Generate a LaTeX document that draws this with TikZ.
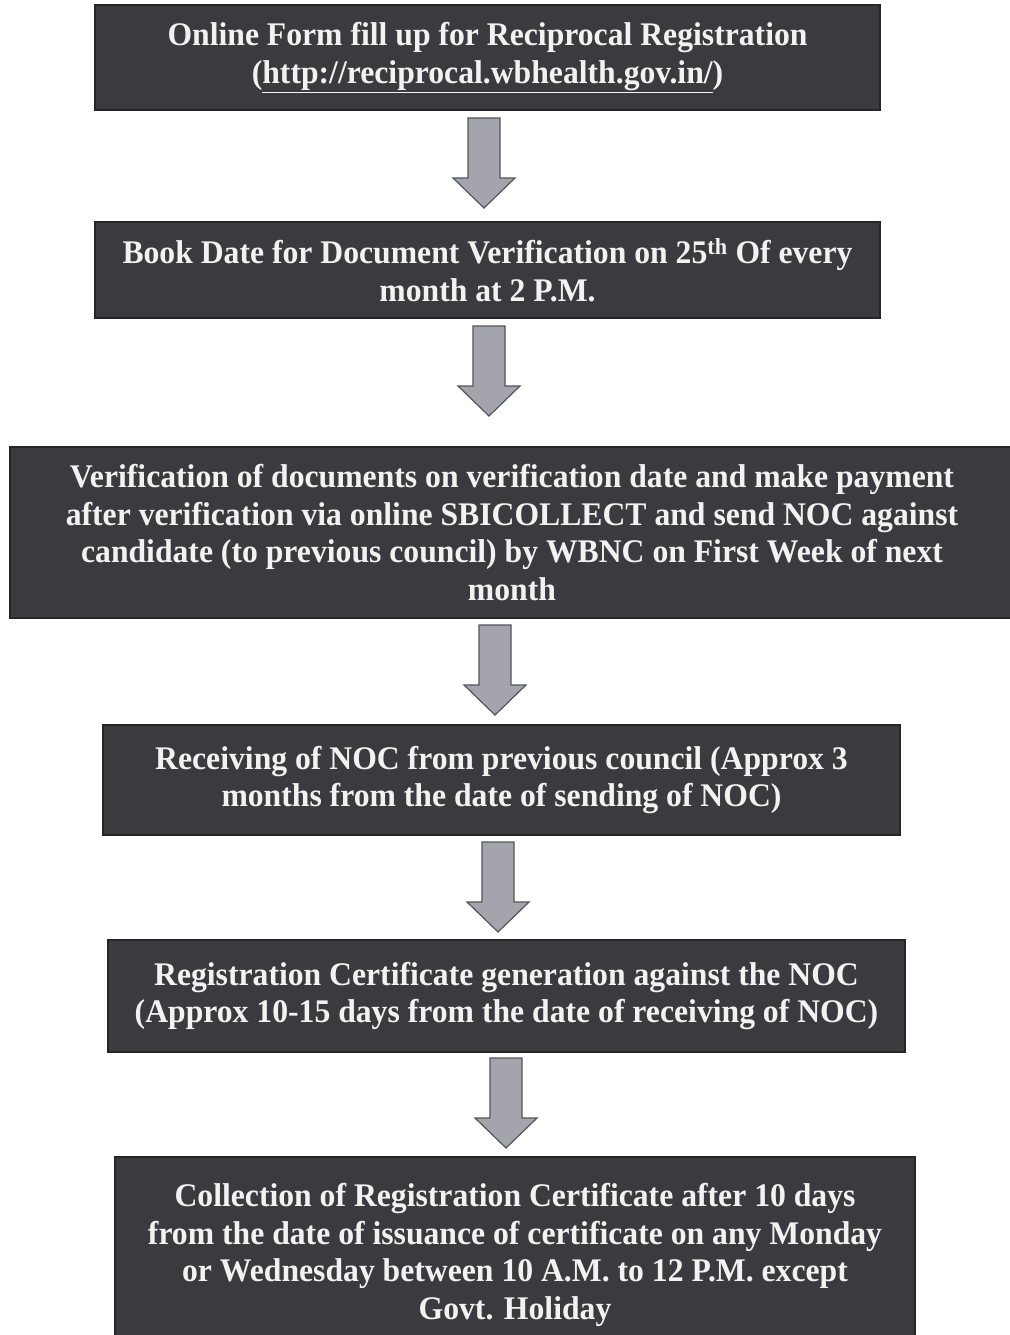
\documentclass[tikz,border=0pt]{standalone}
\usepackage{fontspec}
\setmainfont{Liberation Serif}[FakeStretch=0.96]
\usetikzlibrary{calc}
\definecolor{boxfill}{HTML}{3B3A3F}
\definecolor{boxline}{HTML}{262528}
\definecolor{arrowfill}{HTML}{A3A4AC}
\definecolor{arrowline}{HTML}{55565C}
\definecolor{txt}{HTML}{F2F2F2}
\tikzset{
  stepbox/.style={fill=boxfill, draw=boxline, line width=2pt, text=txt,
    font=\bfseries\fontsize{33}{37.5}\selectfont, align=center,
    inner sep=0pt, outer sep=0pt},
  blockarrow/.style={fill=arrowfill, draw=arrowline, line width=1.2pt, line join=miter}
}
\newcommand{\downarrowat}[1]{%
  \draw[blockarrow] ($(#1)+(-16,0)$) -- ($(#1)+(16,0)$) -- ($(#1)+(16,60)$) -- ($(#1)+(31,60)$)
    -- ($(#1)+(0,90)$) -- ($(#1)+(-31,60)$) -- ($(#1)+(-16,60)$) -- cycle;}
\begin{document}
\begin{tikzpicture}[x=1pt,y=-1pt]
\useasboundingbox (0,0) rectangle (1009,1335);
\fill[white] (0,0) rectangle (1009,1335);

\node[stepbox, minimum width=785, minimum height=105] (b1) at (487.5,57.5)
  {Online Form fill up for Reciprocal Registration\\(\underline{http://reciprocal.wbhealth.gov.in/})};
\node[stepbox, minimum width=785, minimum height=96] (b2) at (487.5,270)
  {Book Date for Document Verification on 25\textsuperscript{th} Of every\\month at 2 P.M.};
\node[stepbox, minimum width=1005, minimum height=171] (b3) at (512,532.5)
  {Verification of documents on verification date and make payment\\after verification via online SBICOLLECT and send NOC against\\candidate (to previous council) by WBNC on First Week of next\\month};
\node[stepbox, minimum width=797, minimum height=110] (b4) at (501.5,780)
  {Receiving of NOC from previous council (Approx 3\\months from the date of sending of NOC)};
\node[stepbox, minimum width=797, minimum height=112] (b5) at (506.5,996)
  {Registration Certificate generation against the NOC\\(Approx 10-15 days from the date of receiving of NOC)};
\node[stepbox, minimum width=800, minimum height=196] (b6) at (515,1255)
  {Collection of Registration Certificate after 10 days\\from the date of issuance of certificate on any Monday\\or Wednesday between 10 A.M. to 12 P.M. except\\Govt. Holiday};

\coordinate (a1) at (484,118);
\coordinate (a2) at (489,326);
\coordinate (a3) at (495,625);
\coordinate (a4) at (498,842);
\coordinate (a5) at (506,1058);
\downarrowat{a1}
\downarrowat{a2}
\downarrowat{a3}
\downarrowat{a4}
\downarrowat{a5}
\end{tikzpicture}
\end{document}
